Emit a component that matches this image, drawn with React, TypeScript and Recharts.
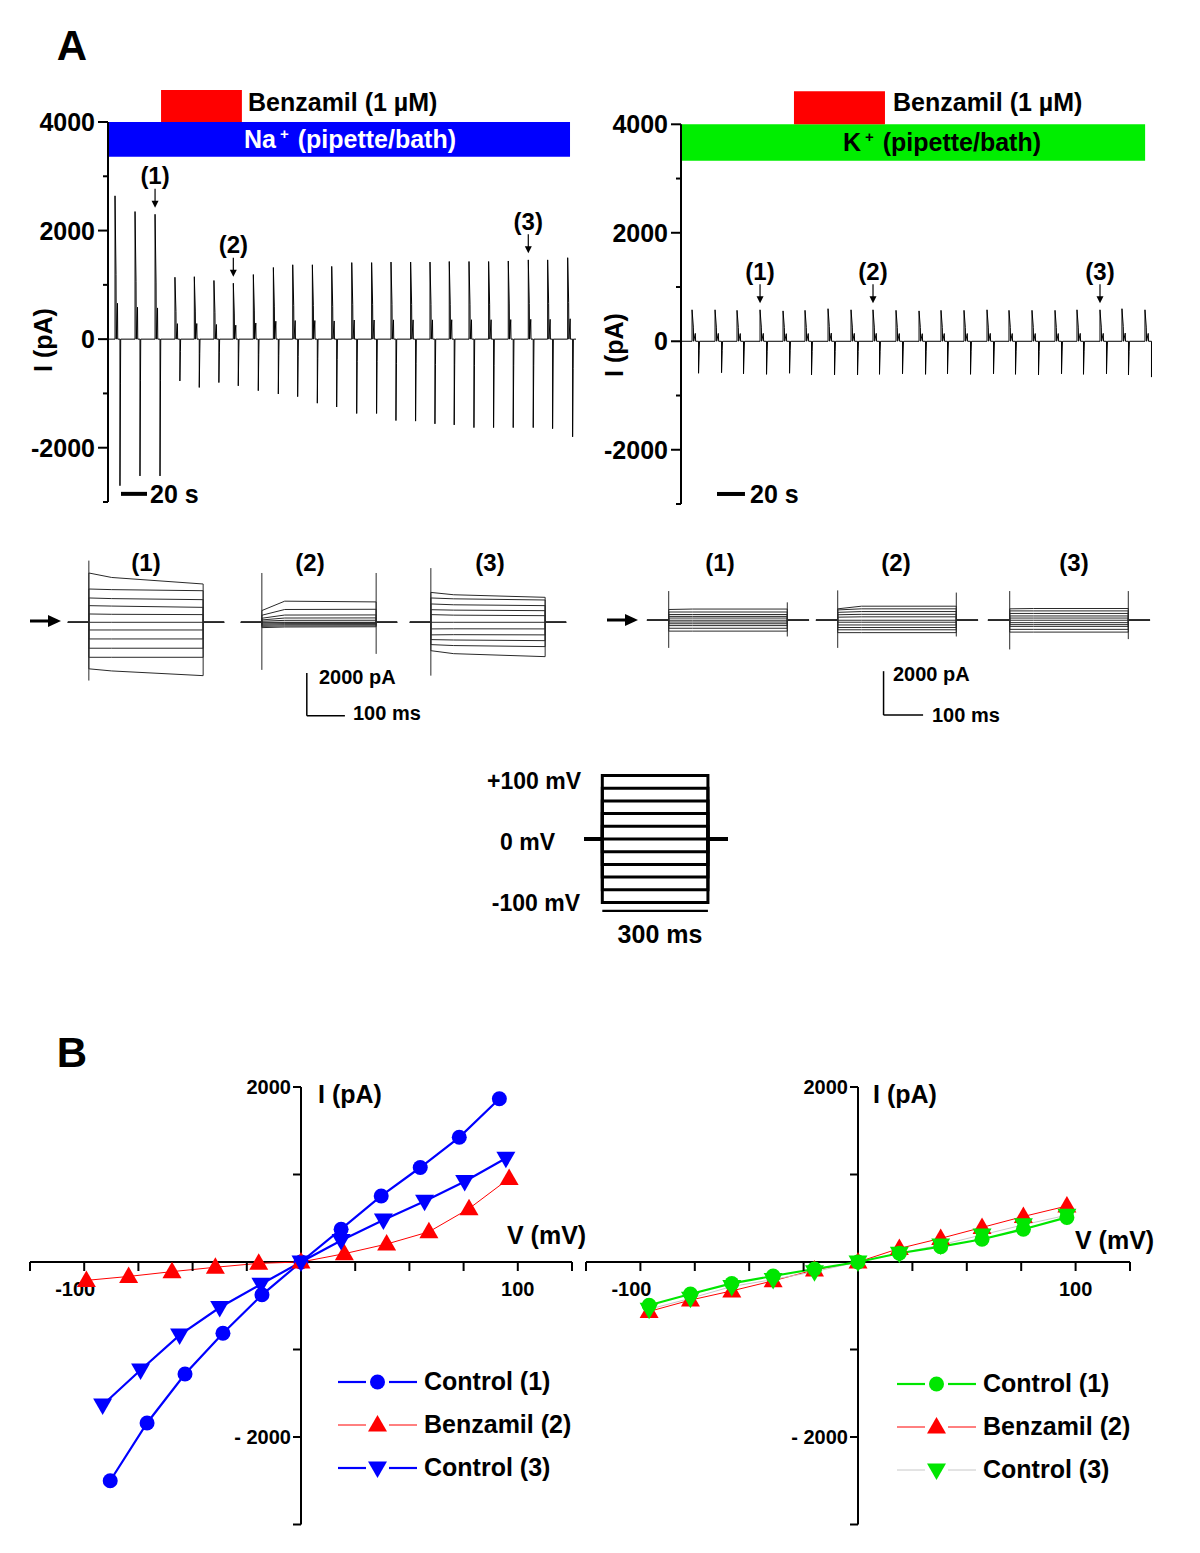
import React from 'react';
import { LineChart, Line, XAxis, YAxis, ReferenceArea, ReferenceLine, ReferenceDot, Legend } from 'recharts';

const FONT = '"Liberation Sans", Arial, Helvetica, sans-serif';
const BLUE = '#0000ff';
const RED = '#ff0000';
const GREEN = '#00e600';
const GREY = '#c8c8c8';

// ---------- A: current vs time, one sweep family every ~15 s ----------
// sweep onset (s), peak outward and peak inward current (pA)
const naSweepT = [5.4, 20.8, 36.2, 51.5, 66.4, 81.5, 96.4, 111.8, 127.2, 142.1, 157.2, 172.1, 187.5, 202.8, 217.7, 232.8, 247.7, 262.5, 277.7, 292.8, 307.9, 323.3, 338.2, 353.6];
const naSweepUp = [2640, 2350, 2300, 1140, 1150, 1080, 1030, 1190, 1320, 1370, 1370, 1340, 1410, 1410, 1420, 1420, 1420, 1430, 1430, 1430, 1440, 1460, 1460, 1500];
const naSweepDown = [-2700, -2520, -2520, -770, -890, -800, -860, -950, -1010, -1060, -1180, -1250, -1370, -1370, -1500, -1510, -1560, -1580, -1630, -1630, -1630, -1630, -1650, -1800];

const kSweepT = [8.5, 26.2, 43.1, 60.8, 78.5, 95.4, 113.1, 130.8, 147.7, 165.4, 183.1, 200.0, 217.7, 235.4, 252.3, 270.0, 287.7, 304.6, 322.3, 339.2, 356.9];
const kSweepUp = [580, 580, 570, 580, 560, 570, 600, 580, 580, 570, 560, 570, 570, 580, 570, 570, 570, 580, 580, 600, 580];
const kSweepDown = [-590, -580, -600, -610, -590, -620, -620, -620, -610, -600, -610, -600, -610, -600, -610, -620, -600, -610, -600, -620, -660];

const traceTicks = [-3000, -2000, -1000, 0, 1000, 2000, 3000, 4000];
const naMarks = [{ label: '(1)', sweep: 2 }, { label: '(2)', sweep: 6 }, { label: '(3)', sweep: 21 }];
const kMarks = [{ label: '(1)', sweep: 3 }, { label: '(2)', sweep: 8 }, { label: '(3)', sweep: 18 }];

// ---------- A: current families at the marked sweeps (pA), +100 ... -100 mV ----------
const naF1Start = [2310, 1560, 1140, 780, 390, 0, -360, -780, -1215, -1640, -2180];
const naF1Mid = [2100, 1530, 1110, 760, 375, 0, -360, -780, -1215, -1640, -2280];
const naF1End = [1795, 1480, 1060, 700, 360, 0, -360, -780, -1215, -1640, -2500];
const naF1Spike = [-2730, 2890];

const naF2Start = [550, 330, 190, 110, 50, 0, -40, -90, -140, -190, -250];
const naF2Mid = [990, 600, 340, 200, 90, 0, -20, -65, -115, -170, -220];
const naF2End = [955, 610, 345, 205, 95, 0, -15, -60, -110, -165, -210];
const naF2Spike = [-2230, 2310];
const naF2SpikeOff = [-1480, 2310];

const naF3Start = [1400, 1140, 860, 590, 360, 0, -310, -590, -810, -1045, -1330];
const naF3Mid = [1290, 1100, 820, 570, 335, 0, -305, -580, -830, -1090, -1470];
const naF3End = [1170, 1045, 780, 545, 310, 0, -310, -590, -860, -1140, -1610];
const naF3Spike = [-2500, 2540];

const kF1Start = [490, 375, 260, 175, 100, 0, -80, -160, -245, -365, -495];
const kF1End = [510, 375, 260, 175, 100, 0, -80, -160, -245, -365, -495];
const kF1Spike = [-1260, 1330];
const kF1SpikeOff = [-740, 815];

const kF2Start = [520, 470, 360, 250, 140, 0, -90, -215, -330, -435, -565];
const kF2End = [640, 520, 395, 270, 155, 0, -90, -215, -330, -435, -565];
const kF2Spike = [-1260, 1360];
const kF2SpikeOff = [-740, 1260];

const kF3Start = [520, 425, 310, 195, 100, 0, -110, -200, -280, -415, -540];
const kF3End = [535, 425, 310, 195, 100, 0, -110, -200, -280, -415, -540];
const kF3Spike = [-1330, 1330];
const kF3SpikeOff = [-860, 1330];

// voltage protocol (mV)
const protoSteps = [100, 80, 60, 40, 20, 0, -20, -40, -60, -80, -100];

// ---------- B: I-V relations ----------
const naCtrl1V = [-88, -71, -53.5, -36, -18, 0, 18.5, 37, 55, 73, 91.5];
const naCtrl1I = [-2500, -1840, -1280, -815, -375, 0, 375, 755, 1080, 1425, 1865];
const naBenzV = [-99, -79.5, -59.5, -39.5, -19.5, 0, 20, 39.5, 59, 77.5, 96];
const naBenzI = [-210, -165, -110, -60, -15, 0, 95, 205, 345, 610, 955];
const naCtrl3V = [-91.5, -74, -56, -37.5, -18.5, 0, 18.5, 38, 57, 75.5, 94.5];
const naCtrl3I = [-1635, -1235, -835, -520, -255, 0, 245, 480, 695, 920, 1185];

const kCtrl1V = [-96, -77, -58, -39, -20, 0, 19, 38, 57, 76, 96];
const kCtrl1I = [-495, -365, -245, -160, -80, 0, 100, 175, 260, 375, 510];
const kBenzV = [-96, -77, -58, -39, -20, 0, 19, 38, 57, 76, 96];
const kBenzI = [-565, -435, -330, -215, -90, 0, 155, 270, 395, 520, 640];
const kCtrl3V = [-96, -77, -58, -39, -20, 0, 19, 38, 57, 76, 96];
const kCtrl3I = [-540, -415, -280, -200, -110, 0, 100, 195, 310, 425, 535];

const ivVTicks = [-125, -100, -75, -50, -25, 25, 50, 75, 100, 125];
const ivITicks = [2000, 1000, -1000, -2000, -3000];

// ---------- helpers ----------
function buildTrace(times: number[], ups: number[], downs: number[], gap: number, end: number) {
  const pts = [{ t: 0, i: 0 }];
  times.forEach((t, k) => {
    const u = ups[k];
    const d = downs[k];
    pts.push(
      { t, i: 0 }, { t, i: u },
      { t: t + 0.2 * gap, i: 0.45 * u }, { t: t + 0.25 * gap, i: 0 },
      { t: t + 0.5 * gap, i: 0.25 * u }, { t: t + 0.55 * gap, i: 0 },
      { t: t + gap, i: 0 }, { t: t + gap, i: d },
      { t: t + 1.1 * gap, i: 0.3 * d }, { t: t + 1.15 * gap, i: 0 },
    );
  });
  pts.push({ t: end, i: 0 });
  return pts;
}

function familyTraces(start: number[], mid: number[], end: number[]) {
  return start.map((s, k) => [
    { t: -55, i: 0 }, { t: 0, i: 0 }, { t: 0, i: s }, { t: 60, i: mid[k] },
    { t: 300, i: end[k] }, { t: 300, i: 0 }, { t: 355, i: 0 },
  ]);
}

function spikeTraces(on: number[], off?: number[]) {
  const out = [[{ t: 0, i: on[0] }, { t: 0, i: on[1] }]];
  if (off) out.push([{ t: 300, i: off[0] }, { t: 300, i: off[1] }]);
  return out;
}

function Txt({ x, y, size = 25, anchor = 'start', color = '#000', rotate = false, children }: any) {
  const tx = anchor === 'start' ? '0' : anchor === 'middle' ? '-50%' : '-100%';
  return (
    <div
      style={{
        position: 'absolute', left: x, top: y, fontSize: size, fontWeight: 700, lineHeight: 1,
        whiteSpace: 'nowrap', color, transform: `translate(${tx}, -50%)${rotate ? ' rotate(-90deg)' : ''}`,
      }}
    >
      {children}
    </div>
  );
}

function Arrow({ x, y }: { x: number; y: number }) {
  return (
    <svg style={{ position: 'absolute', left: x, top: y - 8 }} width={32} height={16}>
      <line x1={0} x2={20} y1={8} y2={8} stroke="#000" strokeWidth={3} />
      <polygon points="18,2 31,8 18,14" fill="#000" />
    </svg>
  );
}

function TraceTick(props: any) {
  const { x, y, payload } = props;
  const major = payload.value % 2000 === 0;
  return (
    <g>
      <line x1={x - (major ? 10 : 5)} x2={x} y1={y} y2={y} stroke="#000" strokeWidth={2} />
      {major && (
        <text x={x - 13} y={y} dy="0.36em" textAnchor="end" fontSize={25} fontWeight={700} fontFamily={FONT} fill="#000">
          {payload.value}
        </text>
      )}
    </g>
  );
}

const traceMark = (label: string) => (p: any) => (
  <g>
    <line x1={p.cx} x2={p.cx} y1={p.cy - 19} y2={p.cy - 5} stroke="#000" strokeWidth={1.2} />
    <polygon points={`${p.cx - 3.5},${p.cy - 7} ${p.cx + 3.5},${p.cy - 7} ${p.cx},${p.cy}`} fill="#000" />
    <text x={p.cx} y={p.cy - 32} dy="0.36em" textAnchor="middle" fontSize={24} fontWeight={700} fontFamily={FONT} fill="#000">
      {label}
    </text>
  </g>
);

function TracePanel(props: any) {
  const { left, margin, axisWidth, data, xMax, bar, barColor, drug, marks, sweepT, sweepUp, scaleX, scaleY } = props;
  return (
    <div style={{ position: 'absolute', left, top: 80 }}>
      <LineChart width={600} height={450} data={data} margin={margin}>
        <XAxis type="number" dataKey="t" domain={[0, xMax]} hide allowDataOverflow />
        <YAxis
          type="number" domain={[-3000, 4000]} ticks={traceTicks} interval={0} width={axisWidth}
          tickSize={0} tickMargin={0} tickLine={false} axisLine={{ stroke: '#000', strokeWidth: 2 }}
          tick={(p: any) => <TraceTick {...p} />} allowDataOverflow
        />
        <ReferenceArea x1={bar[0]} x2={bar[1]} y1={bar[2]} y2={bar[3]} fill={barColor} fillOpacity={1} stroke="none" ifOverflow="visible" />
        <ReferenceArea x1={drug[0]} x2={drug[1]} y1={drug[2]} y2={drug[3]} fill={RED} fillOpacity={1} stroke="none" ifOverflow="visible" />
        <Line dataKey="i" stroke="#000" strokeWidth={1} dot={false} isAnimationActive={false} type="linear" />
        {marks.map((m: any) => (
          <ReferenceDot key={m.label} x={sweepT[m.sweep]} y={sweepUp[m.sweep] + 120} r={1} ifOverflow="visible" shape={traceMark(m.label)} />
        ))}
        <ReferenceLine segment={[{ x: scaleX[0], y: scaleY }, { x: scaleX[1], y: scaleY }]} stroke="#000" strokeWidth={4} />
      </LineChart>
    </div>
  );
}

function FamilyPanel({ left, top, width, height, traces, spikes, children }: any) {
  return (
    <div style={{ position: 'absolute', left, top }}>
      <LineChart width={width} height={height} margin={{ top: 0, right: 0, bottom: 0, left: 0 }}>
        <XAxis type="number" dataKey="t" domain={[-60, 360]} hide allowDataOverflow />
        <YAxis type="number" domain={[-5000, 3200]} hide allowDataOverflow />
        {traces.map((d: any, k: number) => (
          <Line key={'tr' + k} data={d} dataKey="i" stroke="#2a2a2a" strokeWidth={1} dot={false} isAnimationActive={false} type="linear" />
        ))}
        {spikes.map((d: any, k: number) => (
          <Line key={'sp' + k} data={d} dataKey="i" stroke="#2a2a2a" strokeWidth={1} dot={false} isAnimationActive={false} type="linear" />
        ))}
        {children}
      </LineChart>
    </div>
  );
}

function Marker({ kind, cx, cy, color }: any) {
  if (kind === 'circle') return <circle cx={cx} cy={cy} r={7.5} fill={color} />;
  if (kind === 'up') return <polygon points={`${cx},${cy - 10} ${cx + 9.5},${cy + 6.5} ${cx - 9.5},${cy + 6.5}`} fill={color} />;
  return <polygon points={`${cx - 9.5},${cy - 6.5} ${cx + 9.5},${cy - 6.5} ${cx},${cy + 10}`} fill={color} />;
}

function IVLegend({ items }: any) {
  return (
    <div style={{ fontFamily: FONT }}>
      {items.map((it: any) => (
        <div key={it.name} style={{ display: 'flex', alignItems: 'center', height: 43 }}>
          <svg width={80} height={24}>
            <line x1={0} x2={28} y1={12} y2={12} stroke={it.line} strokeWidth={it.lw} />
            <line x1={51} x2={79} y1={12} y2={12} stroke={it.line} strokeWidth={it.lw} />
            <Marker kind={it.marker} cx={39.5} cy={12} color={it.color} />
          </svg>
          <span style={{ marginLeft: 6, fontSize: 25, fontWeight: 700, color: '#000' }}>{it.name}</span>
        </div>
      ))}
    </div>
  );
}

const VTick = ({ cx, cy, v }: any) => {
  const label = v === -100 ? '-100' : v === 100 ? '100' : '';
  return (
    <g>
      <line x1={cx} x2={cx} y1={cy} y2={cy + 9} stroke="#000" strokeWidth={2} />
      {label && (
        <text x={cx + (v < 0 ? -9 : 0)} y={cy + 27} dy="0.36em" textAnchor="middle" fontSize={20} fontWeight={700} fontFamily={FONT} fill="#000">
          {label}
        </text>
      )}
    </g>
  );
};

const ITick = ({ cx, cy, i }: any) => {
  const label = i === 2000 ? '2000' : i === -2000 ? '- 2000' : '';
  return (
    <g>
      <line x1={cx - 8} x2={cx} y1={cy} y2={cy} stroke="#000" strokeWidth={2} />
      {label && (
        <text x={cx - 10} y={cy} dy="0.36em" textAnchor="end" fontSize={20} fontWeight={700} fontFamily={FONT} fill="#000">
          {label}
        </text>
      )}
    </g>
  );
};

function IVPanel({ left, margin, series, legend, legendLeft, legendTop }: any) {
  return (
    <div style={{ position: 'absolute', left, top: 1040 }}>
      <LineChart width={600} height={510} margin={margin}>
        <XAxis type="number" dataKey="v" domain={[-125, 125]} hide allowDataOverflow />
        <YAxis type="number" domain={[-3000, 2000]} hide allowDataOverflow />
        <ReferenceLine y={0} stroke="#000" strokeWidth={2} />
        <ReferenceLine x={0} stroke="#000" strokeWidth={2} />
        {ivVTicks.map((v) => (
          <ReferenceDot key={'v' + v} x={v} y={0} r={1} ifOverflow="visible" shape={(p: any) => <VTick {...p} v={v} />} />
        ))}
        {ivITicks.map((i) => (
          <ReferenceDot key={'i' + i} x={0} y={i} r={1} ifOverflow="visible" shape={(p: any) => <ITick {...p} i={i} />} />
        ))}
        {series.map((s: any) => (
          <Line
            key={s.name} name={s.name} data={s.v.map((v: number, k: number) => ({ v, i: s.i[k] }))} dataKey="i"
            stroke={s.line} strokeWidth={s.lw} type="linear" isAnimationActive={false}
            dot={(p: any) => <Marker key={s.name + p.index} kind={s.marker} cx={p.cx} cy={p.cy} color={s.color} />}
          />
        ))}
        <Legend
          layout="vertical" align="center" verticalAlign="middle"
          wrapperStyle={{ left: legendLeft, top: legendTop, width: 262 }}
          content={() => <IVLegend items={legend} />}
        />
      </LineChart>
    </div>
  );
}

export default function App() {
  const naTrace = buildTrace(naSweepT, naSweepUp, naSweepDown, 3.8, 360);
  const kTrace = buildTrace(kSweepT, kSweepUp, kSweepDown, 5, 362.3);

  const protoLines = protoSteps.map((v) => [
    { t: -52, v: 0 }, { t: 0, v: 0 }, { t: 0, v }, { t: 300, v }, { t: 300, v: 0 }, { t: 357, v: 0 },
  ]);

  const naCtrl1 = { name: 'Control (1)', v: naCtrl1V, i: naCtrl1I, line: BLUE, color: BLUE, lw: 2.2, marker: 'circle' };
  const naBenz = { name: 'Benzamil (2)', v: naBenzV, i: naBenzI, line: RED, color: RED, lw: 1, marker: 'up' };
  const naCtrl3 = { name: 'Control (3)', v: naCtrl3V, i: naCtrl3I, line: BLUE, color: BLUE, lw: 2.2, marker: 'down' };
  const kCtrl1 = { name: 'Control (1)', v: kCtrl1V, i: kCtrl1I, line: GREEN, color: GREEN, lw: 2.2, marker: 'circle' };
  const kBenz = { name: 'Benzamil (2)', v: kBenzV, i: kBenzI, line: RED, color: RED, lw: 1, marker: 'up' };
  const kCtrl3 = { name: 'Control (3)', v: kCtrl3V, i: kCtrl3I, line: GREY, color: GREEN, lw: 1, marker: 'down' };

  return (
    <div style={{ position: 'absolute', left: 0, top: 0, width: 1200, height: 1553, background: '#fff', overflow: 'hidden', fontFamily: FONT, color: '#000' }}>
      {/* ---------- A: time course ---------- */}
      <Txt x={72} y={46} size={42} anchor="middle">A</Txt>

      <TracePanel
        left={0} margin={{ top: 42, right: 24, bottom: 28, left: 0 }} axisWidth={108} data={naTrace} xMax={360}
        bar={[0, 355.4, 3360, 4000]} barColor={BLUE} drug={[40.8, 103, 4000, 4590]}
        marks={naMarks} sweepT={naSweepT} sweepUp={naSweepUp} scaleX={[10, 30]} scaleY={-2850}
      />
      <TracePanel
        left={570} margin={{ top: 44.3, right: 18, bottom: 26, left: 0 }} axisWidth={111} data={kTrace} xMax={362.3}
        bar={[0, 357, 3330, 4000]} barColor="#00ee00" drug={[86.9, 156.9, 4000, 4607]}
        marks={kMarks} sweepT={kSweepT} sweepUp={kSweepUp} scaleX={[27.7, 49.2]} scaleY={-2815}
      />

      <Txt x={248} y={102}>Benzamil (1 µM)</Txt>
      <Txt x={893} y={102}>Benzamil (1 µM)</Txt>
      <Txt x={350} y={139} anchor="middle" color="#fff">
        Na<span style={{ fontSize: 15, position: 'relative', top: -9, marginLeft: 4, marginRight: 2 }}>+</span> (pipette/bath)
      </Txt>
      <Txt x={942} y={142} anchor="middle">
        K<span style={{ fontSize: 15, position: 'relative', top: -9, marginLeft: 4, marginRight: 2 }}>+</span> (pipette/bath)
      </Txt>
      <Txt x={43} y={340} anchor="middle" rotate>I (pA)</Txt>
      <Txt x={614} y={345} anchor="middle" rotate>I (pA)</Txt>
      <Txt x={150} y={494}>20 s</Txt>
      <Txt x={750} y={494}>20 s</Txt>

      {/* ---------- A: current families ---------- */}
      <Arrow x={30} y={621} />
      <Arrow x={607} y={620} />
      <Txt x={146} y={563} size={24} anchor="middle">(1)</Txt>
      <Txt x={310} y={563} size={24} anchor="middle">(2)</Txt>
      <Txt x={490} y={563} size={24} anchor="middle">(3)</Txt>
      <Txt x={720} y={563} size={24} anchor="middle">(1)</Txt>
      <Txt x={896} y={563} size={24} anchor="middle">(2)</Txt>
      <Txt x={1074} y={563} size={24} anchor="middle">(3)</Txt>

      <FamilyPanel left={66.1} top={553.5} width={160} height={175} traces={familyTraces(naF1Start, naF1Mid, naF1End)} spikes={spikeTraces(naF1Spike)} />
      <FamilyPanel left={239.1} top={553.5} width={160} height={175} traces={familyTraces(naF2Start, naF2Mid, naF2End)} spikes={spikeTraces(naF2Spike, naF2SpikeOff)}>
        <ReferenceLine segment={[{ x: 118, y: -2380 }, { x: 118, y: -4380 }]} stroke="#000" strokeWidth={1.5} />
        <ReferenceLine segment={[{ x: 118, y: -4380 }, { x: 218, y: -4380 }]} stroke="#000" strokeWidth={1.5} />
      </FamilyPanel>
      <FamilyPanel left={408.1} top={553.5} width={160} height={175} traces={familyTraces(naF3Start, naF3Mid, naF3End)} spikes={spikeTraces(naF3Spike)} />

      <FamilyPanel left={645.3} top={549.8} width={166} height={180} traces={familyTraces(kF1Start, kF1End, kF1End)} spikes={spikeTraces(kF1Spike, kF1SpikeOff)} />
      <FamilyPanel left={814.3} top={549.8} width={166} height={180} traces={familyTraces(kF2Start, kF2End, kF2End)} spikes={spikeTraces(kF2Spike, kF2SpikeOff)}>
        <ReferenceLine segment={[{ x: 116, y: -2320 }, { x: 116, y: -4320 }]} stroke="#000" strokeWidth={1.5} />
        <ReferenceLine segment={[{ x: 116, y: -4320 }, { x: 216, y: -4320 }]} stroke="#000" strokeWidth={1.5} />
      </FamilyPanel>
      <FamilyPanel left={986.3} top={549.8} width={166} height={180} traces={familyTraces(kF3Start, kF3End, kF3End)} spikes={spikeTraces(kF3Spike, kF3SpikeOff)} />

      <Txt x={319} y={677} size={20}>2000 pA</Txt>
      <Txt x={353} y={713} size={20}>100 ms</Txt>
      <Txt x={893} y={674} size={20}>2000 pA</Txt>
      <Txt x={932} y={715} size={20}>100 ms</Txt>

      {/* ---------- voltage protocol ---------- */}
      <div style={{ position: 'absolute', left: 584, top: 765.5 }}>
        <LineChart width={144} height={146} margin={{ top: 0, right: 0, bottom: 0, left: 0 }}>
          <XAxis type="number" dataKey="t" domain={[-52, 357]} hide />
          <YAxis type="number" dataKey="v" domain={[-115, 115]} hide />
          {protoLines.map((d, k) => (
            <Line key={k} data={d} dataKey="v" stroke="#000" strokeWidth={3} dot={false} isAnimationActive={false} type="linear" />
          ))}
          <ReferenceLine segment={[{ x: 0, y: -114 }, { x: 300, y: -114 }]} stroke="#000" strokeWidth={3} />
        </LineChart>
      </div>
      <Txt x={581} y={781} size={23} anchor="end">+100 mV</Txt>
      <Txt x={500} y={842} size={23}>0 mV</Txt>
      <Txt x={580} y={903} size={23} anchor="end">-100 mV</Txt>
      <Txt x={660} y={934} anchor="middle">300 ms</Txt>

      {/* ---------- B: I-V ---------- */}
      <Txt x={72} y={1053} size={42} anchor="middle">B</Txt>
      <IVPanel
        left={0} margin={{ top: 47, right: 28, bottom: 25.5, left: 30 }}
        series={[naCtrl1, naBenz, naCtrl3]} legend={[naCtrl1, naBenz, naCtrl3]} legendLeft={338} legendTop={320}
      />
      <IVPanel
        left={556} margin={{ top: 47, right: 26, bottom: 25.5, left: 30 }}
        series={[kBenz, kCtrl3, kCtrl1]} legend={[kCtrl1, kBenz, kCtrl3]} legendLeft={341} legendTop={322}
      />
      <Txt x={318} y={1094}>I (pA)</Txt>
      <Txt x={873} y={1094}>I (pA)</Txt>
      <Txt x={507} y={1235}>V (mV)</Txt>
      <Txt x={1075} y={1240}>V (mV)</Txt>
    </div>
  );
}
